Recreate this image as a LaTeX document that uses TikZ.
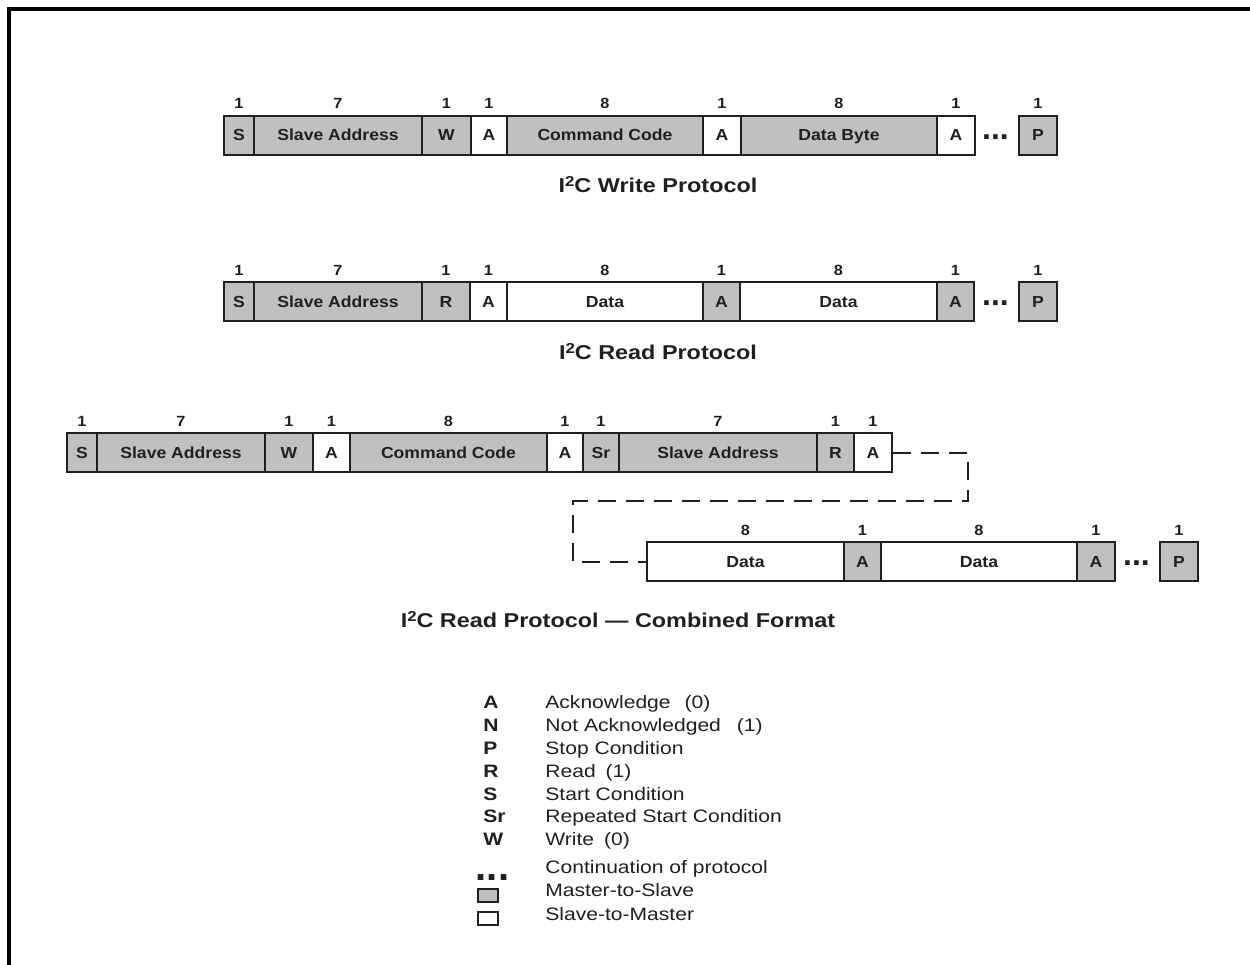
\documentclass[tikz,border=0pt]{standalone}
\usepackage{fontspec}
\usepackage{graphicx}
\usetikzlibrary{calc}
\newfontfamily\boxfont{Liberation Sans}[FakeStretch=1.1]
\newfontfamily\numfont{Liberation Sans}[FakeStretch=1.1]
\newfontfamily\ttlfont{Liberation Sans}[FakeStretch=1.17]
\newfontfamily\legfont{Liberation Sans}[FakeStretch=1.17]
\newfontfamily\dotfont{Liberation Sans}
\definecolor{ink}{RGB}{35,31,32}
\definecolor{mgray}{RGB}{191,192,194}
\newcommand\supii{\raisebox{2.9pt}{\fontsize{7.2pt}{8pt}\selectfont 2}}
\tikzset{
  fld/.style={draw=ink, line width=1pt, inner sep=0pt, text=ink,
    text height=5.75pt, text depth=0pt,
    font=\boxfont\bfseries\fontsize{8pt}{9.5pt}\selectfont},
  num/.style={anchor=base, inner sep=0pt, text=ink,
    font=\numfont\bfseries\fontsize{7.4pt}{9pt}\selectfont},
  dotsym/.style={inner sep=0pt, text=ink,
    font=\dotfont\bfseries\fontsize{16pt}{16pt}\selectfont},
  legdots/.style={inner sep=0pt, text=ink,
    font=\dotfont\bfseries\fontsize{20pt}{20pt}\selectfont},
  ttl/.style={inner sep=0pt, text=ink, text height=7.15pt, text depth=0pt,
    font=\ttlfont\bfseries\fontsize{10pt}{12pt}\selectfont},
  legk/.style={anchor=base west, inner sep=0pt, text=ink,
    font=\legfont\bfseries\fontsize{9pt}{11pt}\selectfont},
  legt/.style={anchor=base west, inner sep=0pt, text=ink,
    font=\legfont\fontsize{9pt}{11pt}\selectfont},
  legbox/.style={draw=ink, line width=1pt, inner sep=0pt,
    minimum width=10pt, minimum height=6.5pt},
  dashline/.style={draw=ink, line width=1pt, dash pattern=on 9pt off 5pt},
  frame/.style={draw=black, line width=1.6pt}
}
% name, x1, x2, ytop, ybot, fill, text, bit count
\newcommand\mkfield[8]{%
  \node[fld, fill=#6, minimum width={(#3-#2)*0.5pt},
        minimum height={(#5-#4)*0.5pt}] (#1) at ({(#2+#3)/2},{(#4+#5)/2}) {#7};
  \node[num] (#1n) at ([yshift=2.9pt]#1.north) {#8};
}
\begin{document}
\begin{tikzpicture}[x=0.5pt,y=-0.5pt]
\useasboundingbox (0,0) rectangle (1250,965);
\fill[white] (0,0) rectangle (1250,965);
\coordinate (fbl) at (9,970);
\coordinate (ftl) at (9,9);
\coordinate (ftr) at (1255,9);
\draw[frame] (fbl) -- (ftl) -- (ftr);

% ---- Row 1: write protocol
\mkfield{r1s}{224}{254}{115.5}{154.5}{mgray}{S}{1}
\mkfield{r1a}{254}{422}{115.5}{154.5}{mgray}{Slave Address}{7}
\mkfield{r1w}{422}{471}{115.5}{154.5}{mgray}{W}{1}
\mkfield{r1k}{471}{507}{115.5}{154.5}{white}{A}{1}
\mkfield{r1c}{507}{703}{115.5}{154.5}{mgray}{Command Code}{8}
\mkfield{r1k2}{703}{741}{115.5}{154.5}{white}{A}{1}
\mkfield{r1d}{741}{937}{115.5}{154.5}{mgray}{Data Byte}{8}
\mkfield{r1k3}{937}{975}{115.5}{154.5}{white}{A}{1}
\node[dotsym] (r1dots) at (995.5,137) {...};
\mkfield{r1p}{1019}{1057}{115.5}{154.5}{mgray}{P}{1}
\node[ttl] (t1) at (658,185) {I\supii C Write Protocol};

% ---- Row 2: read protocol
\mkfield{r2s}{224}{254}{282}{321}{mgray}{S}{1}
\mkfield{r2a}{254}{422}{282}{321}{mgray}{Slave Address}{7}
\mkfield{r2r}{422}{470}{282}{321}{mgray}{R}{1}
\mkfield{r2k}{470}{507}{282}{321}{white}{A}{1}
\mkfield{r2d}{507}{703}{282}{321}{white}{Data}{8}
\mkfield{r2k2}{703}{740}{282}{321}{mgray}{A}{1}
\mkfield{r2d2}{740}{937}{282}{321}{white}{Data}{8}
\mkfield{r2k3}{937}{974}{282}{321}{mgray}{A}{1}
\node[dotsym] (r2dots) at (995.5,303) {...};
\mkfield{r2p}{1019}{1057}{282}{321}{mgray}{P}{1}
\node[ttl] (t2) at (658,352) {I\supii C Read Protocol};

% ---- Row 3: combined format, first part
\mkfield{r3s}{67}{97}{433}{472}{mgray}{S}{1}
\mkfield{r3a}{97}{265}{433}{472}{mgray}{Slave Address}{7}
\mkfield{r3w}{265}{313}{433}{472}{mgray}{W}{1}
\mkfield{r3k}{313}{350}{433}{472}{white}{A}{1}
\mkfield{r3c}{350}{547}{433}{472}{mgray}{Command Code}{8}
\mkfield{r3k2}{547}{583}{433}{472}{white}{A}{1}
\mkfield{r3sr}{583}{619}{433}{472}{mgray}{Sr}{1}
\mkfield{r3a2}{619}{817}{433}{472}{mgray}{Slave Address}{7}
\mkfield{r3r}{817}{854}{433}{472}{mgray}{R}{1}
\mkfield{r3k3}{854}{892}{433}{472}{white}{A}{1}

% ---- Row 4: combined format, continued
\mkfield{r4d}{647}{844}{542}{581}{white}{Data}{8}
\mkfield{r4k}{844}{881}{542}{581}{mgray}{A}{1}
\mkfield{r4d2}{881}{1077}{542}{581}{white}{Data}{8}
\mkfield{r4k2}{1077}{1115}{542}{581}{mgray}{A}{1}
\node[dotsym] (r4dots) at (1136.5,563) {...};
\mkfield{r4p}{1160}{1198}{542}{581}{mgray}{P}{1}

% dashed continuation connector
\coordinate (cA) at (968,501);
\coordinate (cB) at (573,501);
\draw[dashline] (r3k3.east) -| (cA) -- (cB) |- (r4d.west);

\node[ttl] (t3) at (618,620) {I\supii C Read Protocol — Combined Format};

% ---- Legend
\node[legk] (kA)  at (483,708)   {A};
\node[legt] (dA)  at (545,708)   {Acknowledge\hspace{7pt}(0)};
\node[legk] (kN)  at (483,731)   {N};
\node[legt] (dN)  at (545,731)   {Not Acknowledged\hspace{8pt}(1)};
\node[legk] (kP)  at (483,754)   {P};
\node[legt] (dP)  at (545,754)   {Stop Condition};
\node[legk] (kR)  at (483,777)   {R};
\node[legt] (dR)  at (545,777)   {Read\hspace{5pt}(1)};
\node[legk] (kS)  at (483,800)   {S};
\node[legt] (dS)  at (545,800)   {Start Condition};
\node[legk] (kSr) at (483,822.5) {Sr};
\node[legt] (dSr) at (545,822.5) {Repeated Start Condition};
\node[legk] (kW)  at (483,845)   {W};
\node[legt] (dW)  at (545,845)   {Write\hspace{5pt}(0)};
\node[legdots] (kdots) at (492.5,877.5) {...};
\node[legt] (ddots) at (545,873.5) {Continuation of protocol};
\node[legbox, fill=mgray] (kms) at (488,895.5) {};
\node[legt] (dms) at (545,896.5) {Master-to-Slave};
\node[legbox, fill=white] (ksm) at (488,918.5) {};
\node[legt] (dsm) at (545,920) {Slave-to-Master};
\end{tikzpicture}
\end{document}
